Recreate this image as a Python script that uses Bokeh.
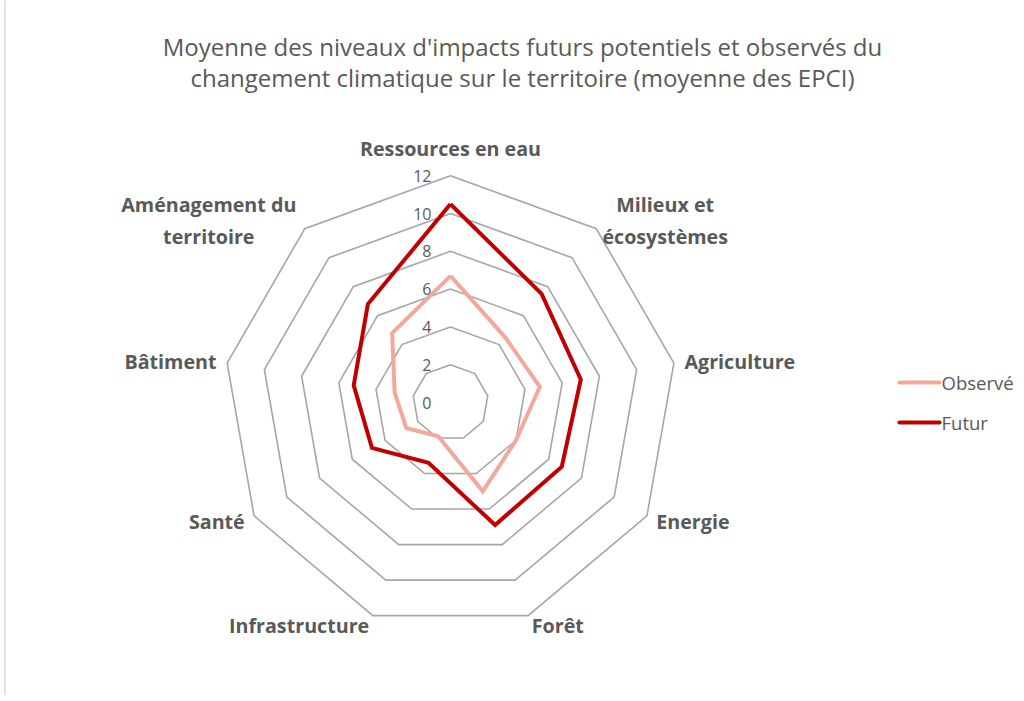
import numpy as np
from bokeh.plotting import figure
from bokeh.models import Range1d
from bokeh.core.properties import value
from bokeh.embed import file_html
from bokeh.resources import INLINE

# ---------------- data ----------------
categories = ["Ressources en eau", "Milieux et\nécosystèmes", "Agriculture", "Energie",
              "Forêt", "Infrastructure", "Santé", "Bâtiment", "Aménagement du\nterritoire"]
observe = [6.7, 4.5, 4.8, 4.0, 5.0, 1.9, 2.7, 3.0, 4.8]
futur = [10.5, 7.5, 7.0, 6.8, 6.9, 3.4, 4.8, 5.2, 6.8]
ring_values = [2, 4, 6, 8, 10, 12]
tick_labels = ["0", "2", "4", "6", "8", "10", "12"]
tick_values = [0, 2, 4, 6, 8, 10, 12]
series_names = ["Observé", "Futur"]
title_lines = ["Moyenne des niveaux d'impacts futurs potentiels et observés du",
               "changement climatique sur le territoire (moyenne des EPCI)"]

# ---------------- layout ----------------
W, H = 1020, 695
PX = 18.9                 # pixels per value unit
CX, CY = 450, 402         # centre in page pixels
def px_x(x):
    return (x - CX) / PX
def px_y(y):
    return (CY - y) / PX

GRAY_TXT = "#595959"
GRID = "#A6A6A6"
C_OBS = "#F4A89A"
C_FUT = "#C00000"
FONT = value("Open Sans")

p = figure(width=W, height=H, output_backend="svg", toolbar_location=None,
           x_range=Range1d(px_x(0), px_x(W)), y_range=Range1d(px_y(H), px_y(0)),
           min_border=0)
p.axis.visible = False
p.grid.visible = False
p.outline_line_color = None
p.background_fill_color = "white"
p.border_fill_color = "white"

# chart-area border (left edge)
p.line([px_x(4.5), px_x(4.5)], [px_y(0), px_y(H)], line_color="#D0D0D0", line_width=1.2)

n = len(categories)
theta = np.pi / 2 - np.arange(n) * 2 * np.pi / n

# rings
for r in ring_values:
    xs = list(r * np.cos(theta)) + [r * np.cos(theta[0])]
    ys = list(r * np.sin(theta)) + [r * np.sin(theta[0])]
    p.line(xs, ys, line_color=GRID, line_width=1.6, line_join="miter")

# tick labels
p.text(x=[px_x(431)] * len(tick_values), y=tick_values, text=tick_labels,
       text_font=FONT, text_font_size="16px", text_color=GRAY_TXT,
       text_align="right", text_baseline="middle")

# series
def closed(vals):
    v = np.array(vals)
    xs = v * np.cos(theta)
    ys = v * np.sin(theta)
    return list(xs) + [xs[0]], list(ys) + [ys[0]]

ox, oy = closed(observe)
p.line(ox, oy, line_color=C_OBS, line_width=4, line_join="miter")
fx, fy = closed(futur)
p.line(fx, fy, line_color=C_FUT, line_width=4, line_join="miter")

# category labels
lab_r = [13.45] + [12.57] * (n - 1)
for i, c in enumerate(categories):
    lx = lab_r[i] * np.cos(theta[i])
    ly = lab_r[i] * np.sin(theta[i])
    if i == 0:
        align = "center"
    elif i <= 4:
        align = "left"
    else:
        align = "right"
    if "\n" in c:
        half = {1: 62, 8: 89}[i] / PX
        lx = lx + half if align == "left" else lx - half
        align = "center"
    p.text(x=[lx], y=[ly], text=[c], text_font=FONT, text_font_size="19.7px",
           text_font_style="bold", text_color=GRAY_TXT, text_align=align,
           text_baseline="middle", text_line_height=1.15)

# title
for k, t in enumerate(title_lines):
    p.text(x=[px_x(522)], y=[px_y(46 + 30.5 * k)], text=[t], text_font=FONT,
           text_font_size="24px", text_color=GRAY_TXT, text_align="center",
           text_baseline="middle")

# legend
for k, (name, col) in enumerate(zip(series_names, [C_OBS, C_FUT])):
    yy = px_y(382 + 40 * k)
    p.line([px_x(899), px_x(939)], [yy, yy], line_color=col, line_width=4,
           line_cap="round")
    p.text(x=[px_x(941)], y=[yy], text=[name], text_font=FONT, text_font_size="18.5px",
           text_color=GRAY_TXT, text_align="left", text_baseline="middle")

open("out.html", "w").write(file_html(p, INLINE))
